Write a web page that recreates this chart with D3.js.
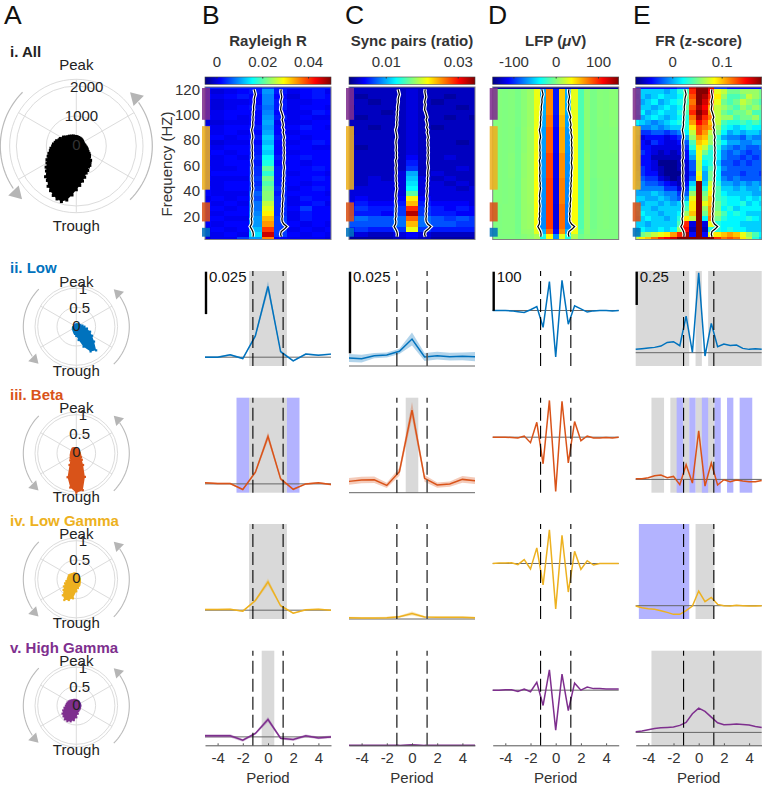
<!DOCTYPE html>
<html>
<head>
<meta charset="utf-8">
<script src="https://d3js.org/d3.v7.min.js"></script>
<style>
  body { margin: 0; background: #fff; }
  text { font-family: "Liberation Sans", Arial, sans-serif; }
</style>
</head>
<body>
<div id="chart-container"></div>
<script>
// ---- band names and colours ----
const bandNames = ["ii. Low", "iii. Beta", "iv. Low Gamma", "v. High Gamma"];
const bandColors = ["#0072bd", "#d95319", "#edb120", "#7e2f8e"];
// frequency range of each band, used by the coloured strips left of the heatmaps
const bandRanges = [[4, 11], [16, 31], [41, 91], [96, 121]];

// ---- polar scatter outlines: radius at every angle step, clockwise from Peak ----
const polarAll = [300,311,289,295,278,285,270,278,262,270,250,258,240,250,238,256,262,285,289,320,344,372,385,430,
  490,540,575,675,715,790,810,900,960,1080,1190,1320,1460,1640,1830,1920,1880,1820,1720,1640,1500,1450,1300,1230,
  1130,1080,1000,945,880,850,790,765,715,680,610,590,515,520,460,430,395,400,360,365,340,345,315,320];
const polarLow = [.05,.05,.06,.06,.07,.08,.09,.11,.16,.21,.28,.38,.47,.6,.8,.74,.55,.35,.24,.19,.16,.13,.11,.1,.1,.09,.08,.06,.05,.04,.04,.04,.04,.04,.05,.05];
const polarBeta = [.12,.1,.1,.09,.09,.08,.08,.08,.08,.08,.09,.1,.12,.16,.22,.35,.65,.97,1.02,.9,.66,.35,.24,.19,.16,.15,.14,.13,.13,.13,.13,.14,.15,.15,.14,.13];
const polarLowGamma = [.14,.11,.1,.09,.09,.08,.08,.08,.08,.08,.08,.09,.1,.11,.13,.16,.18,.23,.31,.5,.57,.62,.54,.43,.37,.31,.26,.22,.21,.21,.21,.19,.17,.16,.16,.15];
const polarHighGamma = [.14,.13,.12,.12,.11,.1,.1,.1,.1,.1,.1,.1,.1,.11,.12,.12,.15,.21,.3,.38,.43,.46,.46,.43,.41,.36,.31,.27,.25,.24,.22,.2,.18,.16,.16,.15];

// ---- heatmaps, rows listed from the top of the panel down ----
const freqEdges = [122,120,116,112,108,104,100,96,92,88,84,80,76,72,68,64,60,56,52,48,44,40,36,32,28,24,20,16,12,8,4,2];
const lfpFreqEdges = [122,120,100,90,70,50,30,10,6,2];
const periodsCoarse = [-5,-4,-3,-2,-1,0,1,2,3,4,5];
const periodsFine = [-5,-4.5,-4,-3.5,-3,-2.5,-2,-1.5,-1,-.5,0,.5,1,1.5,2,2.5,3,3.5,4,4.5,5];

// Rayleigh R x 1e-3
const heatRayleigh = [
  [3,3,3,3,3,5,3,3,3,3,3],
  [1,0,1,2,3,10,3,1,2,3,1],
  [2,1,2,3,2,9,2,0,2,3,2],
  [1,0,1,1,2,9,3,1,1,2,2],
  [1,0,1,2,3,8,3,1,2,2,1],
  [1,1,2,2,2,9,2,1,1,3,2],
  [2,1,2,1,2,10,3,1,2,1,1],
  [0,0,1,1,2,11,1,1,1,2,2],
  [2,1,2,2,3,10,2,2,3,2,1],
  [1,1,2,1,2,11,2,1,2,2,2],
  [2,2,1,2,3,13,3,2,1,2,2],
  [1,0,1,1,2,12,2,1,2,3,2],
  [2,1,2,2,3,14,2,2,2,1,1],
  [1,2,1,2,3,13,2,1,2,2,2],
  [2,1,2,1,4,16,3,2,3,2,2],
  [1,1,2,2,3,17,2,2,1,2,2],
  [2,1,1,2,4,21,3,2,2,3,2],
  [1,2,2,2,4,18,3,1,2,2,1],
  [2,1,1,1,5,22,3,2,2,3,2],
  [1,1,2,2,4,20,3,2,1,2,2],
  [2,1,2,2,5,22,4,1,2,3,2],
  [2,1,1,1,7,23,3,2,2,2,1],
  [1,2,1,2,6,23,4,1,3,2,2],
  [2,1,2,1,8,26,4,1,2,3,1],
  [2,2,1,2,8,28,4,2,5,2,2],
  [1,1,2,2,9,30,4,1,3,2,2],
  [2,2,1,1,10,33,5,1,3,2,2],
  [2,1,2,2,10,35,5,2,1,2,1],
  [1,2,1,2,12,40,5,1,2,1,2],
  [1,1,2,1,14,46,5,2,1,2,1],
  [0,1,1,5,10,36,2,1,1,1,0]
];
// sync pairs ratio x 1e-3
const heatSync = [
  [2,2,2,2,2,2,2,2,2,2,2],
  [2,2,2,2,2,3,2,2,2,2,2],
  [2,1,2,2,2,3,2,2,1,2,2],
  [2,2,1,2,2,3,2,1,2,2,2],
  [1,2,2,2,2,3,2,2,2,1,2],
  [2,2,2,1,2,3,2,2,2,2,2],
  [2,1,2,2,2,3,2,2,1,2,1],
  [2,2,2,2,2,3,2,2,2,2,2],
  [2,2,1,2,2,3,2,1,2,2,2],
  [1,2,2,2,2,3,2,2,2,2,2],
  [2,2,2,2,2,3,2,2,2,2,2],
  [2,2,2,2,2,3,2,2,2,1,2],
  [2,1,2,2,2,3,2,2,2,2,2],
  [2,2,2,2,2,3,2,2,2,2,2],
  [2,2,2,2,2,4,2,2,3,2,2],
  [2,2,2,2,2,5,2,2,2,2,2],
  [2,2,2,2,2,6,2,2,2,3,2],
  [2,2,2,2,3,10,2,3,2,2,2],
  [2,2,3,2,3,11,3,2,3,2,2],
  [2,2,3,3,3,12,3,3,2,3,2],
  [3,3,3,3,3,13,3,3,3,2,3],
  [3,3,3,3,3,16,3,3,3,3,3],
  [3,4,3,3,4,22,4,3,3,3,3],
  [4,5,4,4,5,24,5,4,4,4,3],
  [5,6,5,5,6,29,6,5,4,5,4],
  [5,5,5,4,6,33,6,5,5,4,4],
  [7,8,7,7,8,27,8,7,6,7,6],
  [7,7,7,7,8,24,8,7,7,6,6],
  [5,6,5,5,6,21,6,5,5,5,5],
  [2,3,2,2,3,4,3,2,2,2,2],
  [1,1,1,1,2,3,2,1,1,1,1]
];
// LFP in microvolts
const heatLfp = [
  [-140,-140,-140,-140,-140,-140,-140,-140,-140,-140,-140,-140,-140,-140,-140,-140,-140,-140,-140,-140,-140],
  [1,1,0,1,-2,3,8,32,-60,72,-105,52,-60,30,-15,3,-2,2,1,3,2],
  [1,1,0,1,-2,3,8,32,-62,78,-108,58,-64,32,-15,3,-2,2,1,3,2],
  [1,1,0,1,-3,4,9,34,-66,85,-112,62,-68,34,-15,3,-2,1,1,2,1],
  [1,1,0,2,-3,5,9,36,-68,92,-115,70,-70,36,-15,4,-2,1,1,1,1],
  [1,1,0,1,-3,6,9,36,-70,95,-118,74,-72,36,-15,4,-3,0,1,0,1],
  [0,0,1,1,-3,6,8,36,-72,95,-120,80,-74,36,-14,4,-3,0,1,0,0],
  [0,0,1,1,-3,5,6,30,-60,80,-110,70,-60,34,-10,3,-2,0,0,0,0],
  [0,0,0,0,-1,2,4,12,-30,38,-70,30,-30,14,-4,1,-1,0,0,0,0]
];
// firing rate z-score x 1e-2
const heatFr = [
  [-4,-4,-4,-4,-4,-4,-4,-3,-3,16,18,18,16,-3,-3,-4,-4,-4,-4,-4,-4],
  [1,1,1,1,1,0,1,3,4,14,18,18,15,8,7,5,5,6,6,6,5],
  [0,1,0,1,2,1,1,2,5,13,18,17,14,9,6,4,4,5,7,6,5],
  [1,0,1,2,0,1,2,3,4,12,18,16,13,8,5,4,5,7,6,5,4],
  [0,1,1,0,1,2,1,2,5,13,17,15,11,7,6,5,4,6,5,6,5],
  [1,2,0,1,2,1,1,3,4,14,18,16,11,7,5,4,5,5,6,4,4],
  [0,0,1,2,1,0,1,2,3,12,17,14,12,7,6,6,4,5,5,6,4],
  [2,1,0,-1,0,1,2,3,3,11,15,13,10,7,4,3,3,4,3,4,3],
  [0,-1,-1,0,-1,0,1,1,3,9,13,12,11,6,3,2,1,2,3,2,2],
  [-1,-3,-3,-2,-2,-3,-2,-1,2,7,13,11,7,5,2,0,1,0,1,1,0],
  [-2,-5,-4,-4,-4,-5,-4,-3,0,6,11,10,6,3,0,-1,-1,-2,0,-1,-1],
  [-1,-4,-5,-3,-4,-5,-5,-4,-2,4,10,9,6,4,2,0,0,-1,-1,0,0],
  [-2,-4,-4,-5,-5,-5,-5,-5,-3,3,9,7,4,3,0,-1,-2,-1,-2,-2,-1],
  [-3,-3,-4,-5,-6,-5,-6,-5,-4,1,8,5,3,2,-1,-2,-1,-2,-3,-2,-2],
  [-3,-4,-4,-6,-6,-6,-6,-6,-4,0,8,3,3,2,-1,-2,-2,-3,-2,-3,-2],
  [-3,-4,-4,-5,-7,-7,-7,-6,-5,-2,7,2,3,1,-2,-2,-3,-2,-3,-2,-2],
  [-3,-3,-4,-5,-6,-7,-7,-6,-5,-2,7,1,4,2,-1,-2,-2,-2,-2,-2,-2],
  [-2,-3,-4,-4,-6,-7,-7,-7,-5,-3,8,0,5,2,-2,-2,-2,-3,-2,-2,-3],
  [-2,-2,-3,-3,-5,-6,-7,-6,-5,-2,9,0,5,2,-1,-2,-1,-2,-2,-2,-2],
  [-1,-1,-2,-2,-3,-4,-5,-6,-4,1,18,1,7,3,0,0,-1,0,-1,0,-1],
  [0,-1,-1,-1,-1,-3,-3,-5,-3,3,18,3,8,4,1,1,0,1,0,0,1],
  [0,0,0,1,0,-1,-1,-3,-2,6,18,5,9,4,2,1,1,1,1,0,0],
  [1,1,0,0,1,0,-1,-2,0,8,18,6,10,4,3,2,2,1,2,1,2],
  [1,0,1,1,0,1,0,1,3,9,18,8,10,5,3,2,2,3,1,2,1],
  [2,1,1,0,1,1,1,1,4,9,18,6,11,5,2,3,1,2,2,2,2],
  [1,2,1,1,0,1,1,2,6,10,18,5,11,6,4,2,3,2,1,1,1],
  [0,1,2,1,1,0,1,3,9,7,18,2,12,5,3,2,2,2,3,2,1],
  [1,1,0,1,1,1,1,4,14,-5,18,-5,8,3,2,2,2,1,1,1,1],
  [1,2,1,1,2,1,2,6,15,-6,18,-6,3,3,2,3,2,2,1,1,1],
  [4,5,6,7,8,9,11,14,17,-4,18,-4,8,9,10,11,10,8,6,4,2],
  [7,9,10,12,14,15,16,18,18,18,18,18,18,14,12,13,12,9,7,3,1]
];

// one-period contour, in periods, every 2 Hz from 120 Hz down to 4 Hz
const contourLeft = [-1.1,-1.05,-1,-1.06,-1.1,-1.08,-1.12,-1.15,-1.13,-1.18,-1.16,-1.2,-1.18,-1.22,-1.2,-1.24,-1.3,-1.26,-1.22,-1.2,
  -1.26,-1.28,-1.25,-1.24,-1.27,-1.23,-1.25,-1.22,-1.3,-1.27,-1.24,-1.28,-1.26,-1.24,-1.28,-1.25,-1.27,-1.22,-1.25,-1.2,
  -1.24,-1.27,-1.29,-1.25,-1.3,-1.27,-1.24,-1.28,-1.26,-1.3,-1.27,-1.33,-1.28,-1.3,-1.42,-1.3,-1.2,-1.16,-1.18];
const contourRight = [1.05,1.02,1.06,1.1,1.05,1,1.06,1.02,1,1.08,1.14,1.2,1.12,1.18,1.22,1.16,1.25,1.2,1.26,1.3,
  1.24,1.28,1.25,1.3,1.27,1.3,1.26,1.3,1.27,1.24,1.28,1.3,1.26,1.24,1.27,1.22,1.25,1.2,1.23,1.18,
  1.22,1.19,1.16,1.2,1.18,1.14,1.17,1.12,1.15,1.1,1.14,1.1,1.13,1.25,1.5,1.3,1.05,1,1.06];

// ---- line rows: mean traces and half widths of the error bands ----
const rayleighMeans = [
  [0,0,.0014,-.0008,.0126,.0417,.0033,-.0022,.0018,.0012,.0018],
  [.0006,.0002,.0002,-.0033,.0069,.028,.003,-.0032,0,.0006,-.0004],
  [.0004,.0004,.0006,-.0006,.0057,.0167,.0026,-.0018,.0002,.0006,0],
  [.0006,.0006,.0006,-.002,.002,.0102,-.0008,-.0016,.0006,-.0006,0]
];
const rayleighErrs = [
  [.0005,.0005,.0005,.0005,.001,.003,.0008,.0005,.0005,.0005,.0005],
  [.0005,.0005,.0005,.0005,.001,.0025,.0008,.0005,.0005,.0005,.0005],
  [.0004,.0004,.0004,.0004,.0008,.002,.0006,.0004,.0004,.0004,.0004],
  [.001,.001,.001,.0008,.0008,.0015,.0008,.0008,.0008,.0008,.0008]
];
const syncMeans = [
  [.00245,.00224,.00316,.00337,.00449,.00826,.00275,.00316,.00286,.00296,.00286],
  [.00347,.00388,.00398,.00224,.00643,.0253,.00439,.00235,.00265,.00408,.00367],
  [.0004,.0003,.0003,.0004,.0007,.0017,.0006,.0005,.0005,.0005,.0004],
  [.0001,.0001,.0001,.0001,.0001,.0003,.0001,.0001,.0001,.0001,.0001]
];
const syncErrs = [
  [.0012,.0012,.0008,.0008,.0008,.002,.0012,.0012,.0012,.0012,.0014],
  [.001,.001,.001,.0008,.0012,.0025,.001,.0008,.0008,.001,.001],
  [.0003,.0003,.0003,.0003,.0003,.0006,.0003,.0003,.0003,.0003,.0003],
  [.0001,.0001,.0001,.0001,.0001,.0002,.0001,.0001,.0001,.0001,.0001]
];
const lfpMeans = [
  [0,0,0,-1,-3,-5,2,10,-43,74,-119,77,-35,12,4,-4,-1,0,0,-1,0],
  [0,0,0,-1,-2,3,-14,38,-68,94,-139,92,-66,40,-9,3,-2,-2,-1,-2,0],
  [0,1,1,2,-3,10,-14,40,-55,86,-116,72,-73,31,-15,7,-4,0,0,0,0],
  [0,0,1,1,-3,3,-4,20,-39,52,-102,41,-52,18,0,8,4,4,3,3,3]
];
const frMeans = [
  [.025,.03,.035,.04,.05,.0775,.0825,.0525,.275,.0025,.6,-.025,.22,.045,.065,.055,.0575,.0325,.025,.03,.025],
  [.005,.005,.0125,.0275,.0325,.0125,.0225,-.04,.11,-.0275,.365,-.05,.1225,-.0425,-.0025,-.0175,-.005,-.0125,-.0175,-.0175,-.0075],
  [-.0025,-.015,-.0225,-.0275,-.0375,-.05,-.065,-.065,-.0375,-.0025,.11,.03,.0625,.01,0,-.0025,.0025,0,-.0025,-.0025,0],
  [.005,.01,.02,.03,.035,.0375,.04,.0525,.075,.14,.1825,.1575,.115,.0725,.0575,.06,.0625,.06,.055,.045,.0375]
];

// ---- significance spans along the period axis, one list per row ----
const rayleighGrey = [[[-1.5,1.5]], [[-1.5,1.5]], [[-1.5,1.5]], [[-.5,.5]]];
const rayleighBlue = [[], [[-2.5,-1.5],[1.5,2.5]], [], []];
const syncGrey = [[], [[-.5,.5]], [], []];
const syncBlue = [[], [], [], []];
const lfpGrey = [[], [], [], []];
const lfpBlue = [[], [], [], []];
const frGrey = [[[-5,-.75],[-.25,.25],[.75,5]],
  [[-3.75,-2.75],[-2.25,-.75],[-.25,1.25]],
  [[-.25,1.25]],
  [[-3.75,5]]];
const frBlue = [[],
  [[-1.75,-1.25],[-.75,-.25],[.25,.75],[1.25,1.75],[2.25,2.75],[3.25,4.25]],
  [[-4.75,-.75]],
  []];

// ---- jet colormap ----
const jetStops = [0, .125, .375, .625, .875, 1];
const jetColors = ["#000080", "#0000ff", "#00ffff", "#ffff00", "#ff0000", "#800000"];
const jet = d3.scaleLinear().domain(jetStops).range(jetColors);

const svgWidth = 762;
const svgHeight = 786;
const svg = d3.select("#chart-container").append("svg")
  .attr("width", svgWidth)
  .attr("height", svgHeight)
  .style("display", "block");
const defs = svg.append("defs");

const textColor = "#333";
const fontSize = 15;

// panel letters
[["A", 4], ["B", 202], ["C", 345], ["D", 488], ["E", 633]].forEach(([letter, x]) => {
  svg.append("text")
    .attr("x", x).attr("y", 24)
    .attr("font-size", 26.5).attr("fill", "#111")
    .text(letter);
});

// ---- polar plots, column A ----
function drawPolar(cy, big, radii, rMax, ticks, color, title, titleColor, titleY) {
  const cx = 76.3;
  const g = svg.append("g").attr("transform", `translate(${cx},${cy})`);
  const outer = big ? 66.7 : 41.3;
  const arrowR = big ? 76 : 53;
  const r = d3.scaleLinear().domain([0, rMax]).range([0, outer]);

  // rings and spokes
  ticks.concat([rMax]).forEach(t => {
    g.append("circle").attr("r", r(t)).attr("fill", "none").attr("stroke", "#dcdcdc").attr("stroke-width", 1);
  });
  d3.range(0, 360, 60).forEach(a => {
    const rad = a * Math.PI / 180;
    g.append("line")
      .attr("x2", outer * Math.sin(rad)).attr("y2", -outer * Math.cos(rad))
      .attr("stroke", "#dcdcdc").attr("stroke-width", 1);
  });

  // radial tick labels sit along 80 degrees
  const labelRad = 80 * Math.PI / 180;
  ticks.forEach(t => {
    g.append("text")
      .attr("x", r(t) * Math.cos(labelRad))
      .attr("y", -r(t) * Math.sin(labelRad) + 5)
      .attr("text-anchor", "middle")
      .attr("font-size", fontSize).attr("fill", "#222")
      .text(t);
  });

  // phase outline, with small squares on it for the rough edge of the scatter
  const step = 2 * Math.PI / radii.length;
  const radial = d3.lineRadial().angle((d, i) => i * step).radius(d => r(d)).curve(d3.curveLinearClosed);
  g.append("path").attr("d", radial(radii)).attr("fill", color);
  const dot = big ? 3 : 2.2;
  g.selectAll(".dot").data(radii).join("rect")
    .attr("class", "dot")
    .attr("x", (d, i) => r(d) * Math.sin(i * step) - dot / 2)
    .attr("y", (d, i) => -r(d) * Math.cos(i * step) - dot / 2)
    .attr("width", dot).attr("height", dot)
    .attr("fill", color);
  g.append("text").attr("y", 4).attr("text-anchor", "middle")
    .attr("font-size", fontSize).attr("fill", big ? "#333" : "#222").text("0");

  // counter-clockwise arrows either side
  const arcLine = d3.lineRadial().angle(d => d * Math.PI / 180).radius(arrowR);
  const headLen = big ? 12.3 : 9;
  const headHalf = big ? 7.3 : 5.5;
  [[135, 55, 45], [315, 236, 225.5]].forEach(([from, to, tip]) => {
    g.append("path")
      .attr("d", arcLine(d3.range(from, to, -3).concat([to])))
      .attr("fill", "none").attr("stroke", "#bbb").attr("stroke-width", big ? 1.2 : 1.1);
    const t = tip * Math.PI / 180;
    const tipX = arrowR * Math.sin(t), tipY = -arrowR * Math.cos(t);
    // direction of travel along the arc
    const dirX = -Math.cos(t), dirY = -Math.sin(t);
    const baseX = tipX - dirX * headLen, baseY = tipY - dirY * headLen;
    g.append("path")
      .attr("d", `M${tipX},${tipY}L${baseX - dirY * headHalf},${baseY + dirX * headHalf}L${baseX + dirY * headHalf},${baseY - dirX * headHalf}Z`)
      .attr("fill", "#b5b5b5");
  });

  g.append("text").attr("y", big ? -76 : -40).attr("text-anchor", "middle")
    .attr("font-size", fontSize).attr("fill", "#222").text("Peak");
  g.append("text").attr("y", big ? 85 : 49).attr("text-anchor", "middle")
    .attr("font-size", fontSize).attr("fill", "#222").text("Trough");

  svg.append("text")
    .attr("x", 10).attr("y", titleY)
    .attr("font-size", fontSize).attr("font-weight", "bold").attr("fill", titleColor)
    .text(title);
}

drawPolar(146, true, polarAll, 2225, [1000, 2000], "#000", "i. All", "#222", 57);
const polarLists = [polarLow, polarBeta, polarLowGamma, polarHighGamma];
const polarCy = [326.7, 453.3, 579.3, 705.7];
const polarTitleY = [273, 400, 526, 653];
polarLists.forEach((radii, i) => {
  drawPolar(polarCy[i], false, radii, 1.07, [.5, 1], bandColors[i], bandNames[i], bandColors[i], polarTitleY[i]);
});

// ---- heatmap and trace columns ----
const columns = [
  { x0: 205, title: ["Rayleigh R"], barDomain: [-.005, .05], barTicks: [0, .02, .04], unit: .001,
    heat: heatRayleigh, edges: freqEdges, periods: periodsCoarse, step: 1, means: rayleighMeans, errs: rayleighErrs,
    grey: rayleighGrey, blue: rayleighBlue, yDomain: [-.0052, .0508], barLen: .025, barLabel: "0.025", rightGrey: false },
  { x0: 349, title: ["Sync pairs (ratio)"], barDomain: [-.0002, .0348], barTicks: [.01, .03], unit: .001,
    heat: heatSync, edges: freqEdges, periods: periodsCoarse, step: 1, means: syncMeans, errs: syncErrs,
    grey: syncGrey, blue: syncBlue, yDomain: [0, .0291], barLen: .025, barLabel: "0.025", rightGrey: true },
  { x0: 492.7, title: null, barDomain: [-149, 149], barTicks: [-100, 0, 100], unit: 1,
    heat: heatLfp, edges: lfpFreqEdges, periods: periodsFine, step: .5, means: lfpMeans, errs: null,
    grey: lfpGrey, blue: lfpBlue, yDomain: [-142, 101], barLen: 100, barLabel: "100", rightGrey: false },
  { x0: 635.7, title: ["FR (z-score)"], barDomain: [-.074, .181], barTicks: [0, .1], unit: .01,
    heat: heatFr, edges: freqEdges, periods: periodsFine, step: .5, means: frMeans, errs: null,
    grey: frGrey, blue: frBlue, yDomain: [-.1, .614], barLen: .25, barLabel: "0.25", rightGrey: false }
];

const panelWidth = 126;
const heatTop = 87;
const heatBottom = 239.5;
const rowTops = [271, 397.7, 524, 650.7];
const rowHeight = 95;
const dashAt = [-1.2, 1.2];

// shared frequency scale for all four heatmaps
const yFreq = d3.scaleLinear().domain([1.8, 121.8]).range([heatBottom, heatTop]);

// gradient for the colorbars, from the jet stops
const barGradient = defs.append("linearGradient")
  .attr("id", "jet-gradient")
  .attr("x1", "0%").attr("x2", "100%").attr("y1", "0%").attr("y2", "0%");
jetStops.forEach((s, i) => {
  barGradient.append("stop").attr("offset", (s * 100) + "%").attr("stop-color", jetColors[i]);
});

columns.forEach((col, ci) => {
  const x0 = col.x0;
  const x1 = x0 + panelWidth;
  const cx = x0 + panelWidth / 2;

  // title
  const title = svg.append("text")
    .attr("x", cx).attr("y", 45.7)
    .attr("text-anchor", "middle")
    .attr("font-size", fontSize).attr("font-weight", "bold").attr("fill", textColor);
  if (col.title) {
    title.text(col.title[0]);
  } else {
    title.append("tspan").text("LFP (");
    title.append("tspan").attr("font-style", "italic").text("\u03bc");
    title.append("tspan").text("V)");
  }

  // colorbar
  const barX = d3.scaleLinear().domain(col.barDomain).range([x0, x1]);
  svg.append("rect")
    .attr("x", x0).attr("y", 77)
    .attr("width", panelWidth).attr("height", 7.3)
    .attr("fill", "url(#jet-gradient)")
    .attr("stroke", "#444").attr("stroke-width", .6);
  const barAxis = svg.append("g")
    .attr("transform", "translate(0,77)")
    .call(d3.axisTop(barX).tickValues(col.barTicks).tickSizeInner(-1.5).tickSizeOuter(0).tickPadding(10.3).tickFormat(d => String(d)));
  barAxis.select(".domain").remove();
  barAxis.selectAll("line").attr("stroke", "#333");
  barAxis.selectAll("text").attr("font-size", fontSize).attr("fill", textColor).attr("font-family", null);

  // heatmap cells
  const color = d3.scaleLinear().domain(col.barDomain).range([0, 1]).clamp(true);
  const x = d3.scaleLinear().domain([-5, 5]).range([x0, x1]).clamp(true);
  const heatG = svg.append("g").attr("shape-rendering", "crispEdges");
  col.heat.forEach((row, ri) => {
    heatG.selectAll(null).data(row).join("rect")
      .attr("x", (d, i) => x(col.periods[i] - col.step / 2))
      .attr("width", (d, i) => x(col.periods[i] + col.step / 2) - x(col.periods[i] - col.step / 2))
      .attr("y", yFreq(Math.min(col.edges[ri], 121.8)))
      .attr("height", yFreq(Math.max(col.edges[ri + 1], 1.8)) - yFreq(Math.min(col.edges[ri], 121.8)))
      .attr("fill", d => jet(color(d * col.unit)));
  });
  svg.append("rect")
    .attr("x", x0).attr("y", heatTop)
    .attr("width", panelWidth).attr("height", heatBottom - heatTop)
    .attr("fill", "none").attr("stroke", "#808080").attr("stroke-width", 1);

  // contours, white under black
  const contour = d3.line().x(d => x(d)).y((d, i) => yFreq(120 - 2 * i));
  [contourLeft, contourRight].forEach(points => {
    svg.append("path").attr("d", contour(points)).attr("fill", "none").attr("stroke", "#fff").attr("stroke-width", 3.4);
    svg.append("path").attr("d", contour(points)).attr("fill", "none").attr("stroke", "#000").attr("stroke-width", 1.2);
  });

  // coloured band strips on the left edge
  bandRanges.forEach((range, i) => {
    svg.append("rect")
      .attr("x", x0 - 3).attr("width", 8)
      .attr("y", yFreq(range[1]))
      .attr("height", yFreq(range[0]) - yFreq(range[1]))
      .attr("fill", bandColors[i]).attr("fill-opacity", .88);
  });

  // frequency axis only on the first column
  if (ci === 0) {
    const freqAxis = svg.append("g")
      .attr("transform", `translate(${x0},0)`)
      .call(d3.axisLeft(yFreq).tickValues([20, 40, 60, 80, 100, 120]).tickSize(0).tickPadding(5));
    freqAxis.select(".domain").remove();
    freqAxis.selectAll("text").attr("font-size", fontSize).attr("fill", textColor).attr("font-family", null);
    svg.append("text")
      .attr("transform", "translate(171.5,164) rotate(-90)")
      .attr("text-anchor", "middle")
      .attr("font-size", fontSize).attr("fill", textColor)
      .text("Frequency (HZ)");
  }

  // trace rows
  rowTops.forEach((top, ri) => {
    const y = d3.scaleLinear().domain(col.yDomain).range([top + rowHeight, top]);
    const g = svg.append("g");

    col.grey[ri].forEach(s => {
      g.append("rect").attr("x", x(s[0])).attr("y", top)
        .attr("width", x(s[1]) - x(s[0])).attr("height", rowHeight).attr("fill", "#d9d9d9");
    });
    col.blue[ri].forEach(s => {
      g.append("rect").attr("x", x(s[0])).attr("y", top)
        .attr("width", x(s[1]) - x(s[0])).attr("height", rowHeight).attr("fill", "#b3b3ff");
    });

    // zero line
    g.append("line")
      .attr("x1", x0).attr("x2", x1)
      .attr("y1", y(0)).attr("y2", y(0))
      .attr("stroke", "#666").attr("stroke-width", 1);

    const means = col.means[ri];
    if (col.errs) {
      const errs = col.errs[ri];
      const band = d3.area()
        .x((d, i) => x(col.periods[i]))
        .y0((d, i) => y(d - errs[i]))
        .y1((d, i) => y(d + errs[i]));
      g.append("path").attr("d", band(means)).attr("fill", bandColors[ri]).attr("fill-opacity", .3);
    }
    const trace = d3.line().x((d, i) => x(col.periods[i])).y(d => y(d));
    g.append("path").attr("d", trace(means))
      .attr("fill", "none").attr("stroke", bandColors[ri]).attr("stroke-width", 1.5);

    // one-period markers, drawn from the bottom up so the pattern ends on a short dash
    dashAt.forEach((p, di) => {
      const soft = col.rightGrey && di === 1;
      g.append("line")
        .attr("x1", x(p)).attr("x2", x(p))
        .attr("y1", top + rowHeight).attr("y2", top)
        .attr("stroke", soft ? "#555" : "#000")
        .attr("stroke-width", soft ? 1.6 : 1.1)
        .attr("stroke-dasharray", "13,5");
    });

    // scale bar on the first row
    if (ri === 0) {
      const barLen = y(0) - y(col.barLen);
      g.append("line")
        .attr("x1", x0 + 1).attr("x2", x0 + 1)
        .attr("y1", top + .7).attr("y2", top + .7 + barLen)
        .attr("stroke", "#000").attr("stroke-width", 2.4);
      g.append("text")
        .attr("x", x0 + 4).attr("y", top + 10.7)
        .attr("font-size", fontSize).attr("fill", "#111")
        .text(col.barLabel);
    }

    // period axis on the bottom row
    if (ri === 3) {
      const axis = g.append("g")
        .attr("transform", `translate(0,${top + rowHeight - .4})`)
        .call(d3.axisBottom(x).tickValues([-4, -2, 0, 2, 4]).tickSizeInner(-2).tickSizeOuter(0).tickPadding(7.4).tickFormat(d => String(d)));
      axis.select(".domain").attr("stroke", "#555");
      axis.selectAll("line").attr("stroke", "#555");
      axis.selectAll("text").attr("font-size", fontSize).attr("fill", textColor).attr("font-family", null);
      g.append("text")
        .attr("x", cx).attr("y", 782.5)
        .attr("text-anchor", "middle")
        .attr("font-size", fontSize).attr("fill", textColor)
        .text("Period");
    }
  });
});
</script>
</body>
</html>
